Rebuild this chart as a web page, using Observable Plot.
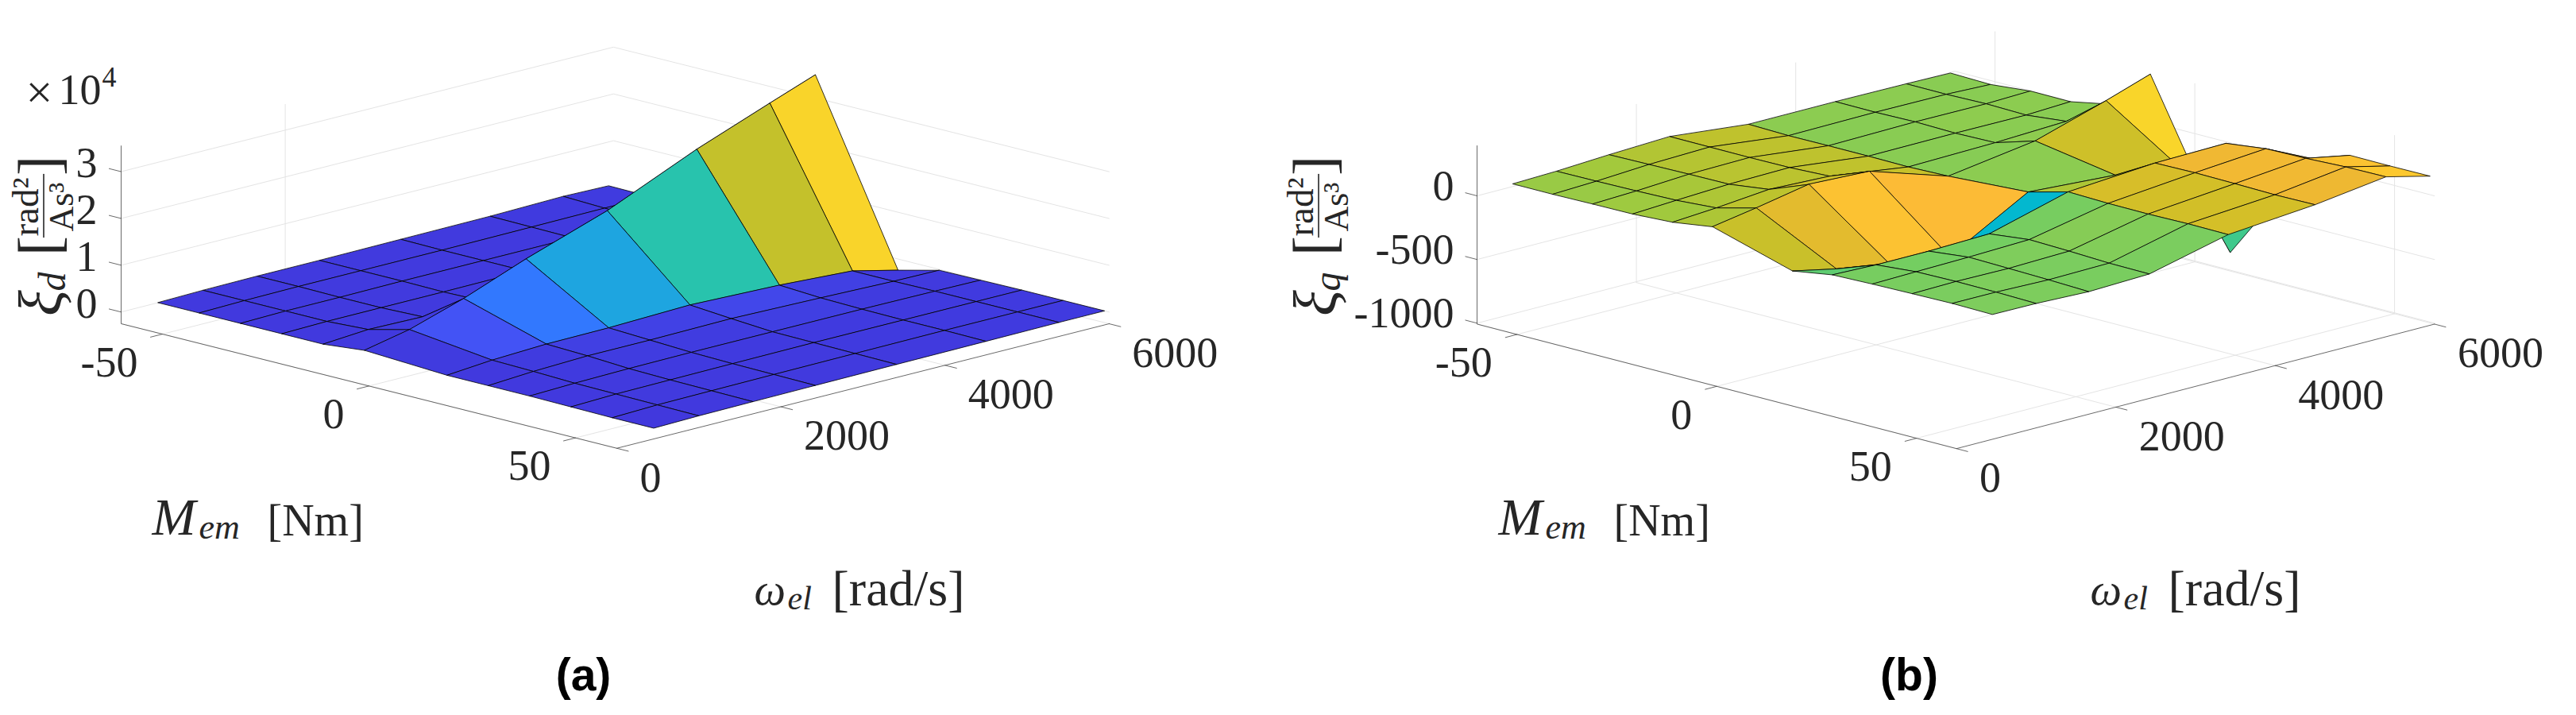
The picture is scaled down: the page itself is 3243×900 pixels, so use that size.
<!DOCTYPE html>
<html><head><meta charset="utf-8">
<script src="https://cdn.jsdelivr.net/npm/d3@7"></script>
<script src="https://cdn.jsdelivr.net/npm/@observablehq/plot@0.6"></script>
<style>
html,body{margin:0;padding:0;background:#fff}
svg{display:block}
</style></head><body><div id="row"></div>
<script>
// Mesh nodes
const omegaNodes = [450,1000,1660,2420,3410,4500,5390,5945];
const torqueNodes = [-60,-50,-40,-30,-20,-10,10,20,30,40,50,60];
// xi_d, in units of 1e4 (rows: torque, columns: omega)
const xiD = [
 [0,.02,.03,.03,.04,.05,.08,.06],
 [0,.02,.03,.03,.03,.04,.05,.05],
 [0,.02,.02,.03,.03,.03,.04,.04],
 [0,.02,.02,.02,.03,.03,.03,.03],
 [0,.07,.05,.04,.03,.03,.03,.03],
 [.09,.29,.66,1.17,1.76,2.59,3.18,3.54],
 [0,.08,.13,.14,.19,.13,.04,-.19],
 [0,.06,.10,.10,.12,.08,.04,.03],
 [0,.03,.05,.06,.06,.06,.05,.04],
 [-.01,.02,.03,.04,.05,.05,.05,.05],
 [-.02,.01,.02,.03,.04,.05,.05,.05],
 [-.02,0,.01,.02,.03,.04,.05,.05]
];
// xi_q
const xiQ = [
 [20,30,52,71,6,6,1,-5],
 [20,33,57,70,-2,4,0,-13],
 [25,38,62,69,0,10,7,17],
 [28,46,65,72,0,3,0,15],
 [45,68,106,86,-3,10,33,77],
 [91,149,227,205,6,105,276,393],
 [-93,-166,-230,-300,45,0,-130,-842],
 [-42,-53,-53,-41,127,176,186,-394],
 [-33,-26,-19,-5,118,181,225,60],
 [-27,-21,-26,-14,116,177,231,164],
 [-22,-23,-34,-27,121,171,245,162],
 [-27,-30,-45,-30,118,175,249,164]
];
const torqueTicks = [-50,0,50];
const omegaTicks = [0,2000,4000,6000];
const zTicksD = [0,1,2,3];
const zTicksQ = [0,-500,-1000];
const omegaLim = [0,6000];
const torqueLim = [-60,60];
// parula-like colour map as seen in the picture (fraction of each panel's colour range)
const cmapStops = [0,.05,.075,.128,.228,.364,.44,.523,.58,.62,.66,.69,.705,.745,.78,.82,.85,.88,.905,1];
const cmapColors = ["#3f2fd4","#4139de","#403bdf","#4353f5","#3278fe","#1ea5e0","#03b8cf","#28c3ad","#40c98a","#6dce62","#7bcd5f","#8ecc4f","#a2c93c","#c4c12b","#d4bf28","#eeb832","#fdbb36","#fcc82e","#f9d52a","#f9f520"];

const SERIF = "Liberation Serif", INK = "#262626", GRID = "#e4e4e4", TICK = 54;

const panels = [
 {z:xiD, zr:[-.25,3.55], cl:[-.19,3.54], zTicks:zTicksD,
  o:[152,392.25], mv:[5.2,1.3065], wv:[.1033,-.02612], zs:58.9,
  verticalOmega:[2000], verticalTorque:[], zLabelX:122, zDy:-10,
  sub:"d", yl:54, mX:0, wX:0, cap:"(a)", capX:734, factor:true},
 {z:xiQ, zr:[-1007,393], cl:[-842,393], zTicks:zTicksQ,
  o:[1859,246], mv:[5.03,1.3065], wv:[.1003,-.02612], zs:.1603,
  verticalOmega:[2000,4000], verticalTorque:[-50,0,50], zLabelX:1830, zDy:-12,
  sub:"q", yl:1659, mX:1695, wX:1682, cap:"(b)", capX:2403, factor:false}
];

function panelMarks(p){
  // orthographic view of the 3-D axes
  const px = (m,w) => p.o[0] + p.mv[0]*(m-torqueLim[0]) + p.wv[0]*w;
  const py = (m,w,z) => p.o[1] + p.mv[1]*(m-torqueLim[0]) + p.wv[1]*w - p.zs*z;
  const P = (m,w,z) => ({x:px(m,w), y:py(m,w,z)});
  const [z0,z1] = p.zr, [wa,wb] = omegaLim, [ma,mb] = torqueLim;
  const frac = z => (z-p.cl[0])/(p.cl[1]-p.cl[0]);

  // surface quads, far to near; a cell takes the colour of its first corner
  const quads = [];
  let id = 0;
  for (let i=0;i<torqueNodes.length-1;i++){
    for (let j=omegaNodes.length-2;j>=0;j--){
      const v = frac(p.z[i][j]);
      for (const [a,b] of [[i,j],[i+1,j],[i+1,j+1],[i,j+1]]){
        quads.push({id, v, ...P(torqueNodes[a],omegaNodes[b],p.z[a][b])});
      }
      id++;
    }
  }

  // grid
  const grid = [];
  const push = (pts)=>{const k=grid.length?grid[grid.length-1].k+1:0; pts.forEach(q=>grid.push({...q,k}));};
  for (const z of p.zTicks) push([P(ma,wa,z),P(ma,wb,z),P(mb,wb,z)]);
  for (const w of omegaTicks) push([P(ma,w,z0),P(mb,w,z0)]);
  for (const m of torqueTicks) push([P(m,wa,z0),P(m,wb,z0)]);
  for (const w of p.verticalOmega) push([P(ma,w,z0),P(ma,w,z1)]);
  for (const m of p.verticalTorque) push([P(m,wb,z0),P(m,wb,z1)]);

  // axes and ticks
  const ax = [];
  const pushA = (pts)=>{const k=ax.length?ax[ax.length-1].k+1:0; pts.forEach(q=>ax.push({...q,k}));};
  pushA([P(ma,wa,z1),P(ma,wa,z0),P(mb,wa,z0),P(mb,wb,z0)]);
  for (const m of torqueTicks) pushA([P(m,wa,z0),P(m,-145,z0)]);
  for (const w of omegaTicks) pushA([P(mb,w,z0),P(mb+2.8,w,z0)]);
  for (const z of p.zTicks) pushA([P(ma,wa,z),P(ma-2.9,wa,z)]);

  const T = (s,x,y,o={}) => Plot.text([s],{text:d=>d,x:()=>x,y:()=>y,fontFamily:SERIF,fill:INK,fontSize:TICK,textAnchor:"middle",lineAnchor:"middle",...o});

  const marks = [
    Plot.line(grid,{x:"x",y:"y",z:"k",stroke:GRID,strokeWidth:1}),
    Plot.line(ax,{x:"x",y:"y",z:"k",stroke:"#444",strokeWidth:.8}),
    Plot.line(quads,{x:"x",y:"y",z:"id",fill:"v",stroke:"#000",strokeWidth:.8,curve:"linear-closed"}),
    // tick labels
    Plot.text(torqueTicks,{text:d=>String(d),x:d=>px(d,wa),y:d=>py(d,wa,z0),dx:-31,dy:36,textAnchor:"end",lineAnchor:"middle",fontFamily:SERIF,fontSize:TICK,fill:INK}),
    Plot.text(omegaTicks,{text:d=>String(d),x:d=>px(mb,d),y:d=>py(mb,d,z0),dx:29,dy:37,textAnchor:"start",lineAnchor:"middle",fontFamily:SERIF,fontSize:TICK,fill:INK}),
    Plot.text(p.zTicks,{text:d=>String(d),x:()=>p.zLabelX,y:d=>py(ma,wa,d),dy:p.zDy,textAnchor:"end",lineAnchor:"middle",fontFamily:SERIF,fontSize:TICK,fill:INK}),
    // torque label
    T("M",191+p.mX,660,{textAnchor:"start",lineAnchor:"bottom",dy:12,fontStyle:"italic",fontSize:66}),
    T("em",250+p.mX,668,{textAnchor:"start",lineAnchor:"bottom",dy:9,fontStyle:"italic",fontSize:44}),
    T("[Nm]",336+p.mX,660,{textAnchor:"start",lineAnchor:"bottom",dy:13,fontSize:56}),
    // speed label
    T("ω",949+p.wX,748,{textAnchor:"start",lineAnchor:"bottom",dy:12,fontStyle:"italic",fontSize:56}),
    T("el",991+p.wX,757,{textAnchor:"start",lineAnchor:"bottom",dy:9,fontStyle:"italic",fontSize:42}),
    T("[rad/s]",1047+p.wX,748,{textAnchor:"start",lineAnchor:"bottom",dy:13,fontSize:64}),
    // vertical label
    T("ξ",p.yl-2,381,{rotate:-90,fontStyle:"italic",fontSize:76}),
    T(p.sub,p.yl+12,354,{rotate:-90,fontStyle:"italic",fontSize:48}),
    T("[",p.yl-5,309,{rotate:-90,fontSize:75}),
    T("]",p.yl-5,208,{rotate:-90,fontSize:75}),
    T("rad²",p.yl-22,260,{rotate:-90,fontSize:47}),
    T("As³",p.yl+23,260,{rotate:-90,fontSize:44}),
    Plot.line([0,1],{x:()=>p.yl+.5,y:d=>219+d*79,stroke:INK,strokeWidth:1.6}),
    // caption
    T(p.cap,p.capX,850,{fontFamily:"Liberation Sans",fontWeight:"bold",fontSize:57,fill:"#000"})
  ];
  if (p.factor){
    marks.push(T("×",32,116,{textAnchor:"start",fontSize:60}));
    marks.push(T("10",73,113,{textAnchor:"start",fontSize:54}));
    marks.push(T("4",128,97,{textAnchor:"start",fontSize:36}));
  }
  return marks;
}
document.getElementById("row").appendChild(Plot.plot({
  width:3243, height:900, margin:0,
  x:{domain:[0,3243], range:[0,3243], axis:null},
  y:{domain:[0,900], range:[0,900], axis:null},
  color:{type:"linear", domain:cmapStops, range:cmapColors, clamp:true},
  style:{background:"white"},
  marks:panels.flatMap(panelMarks)
}));
</script></body></html>
